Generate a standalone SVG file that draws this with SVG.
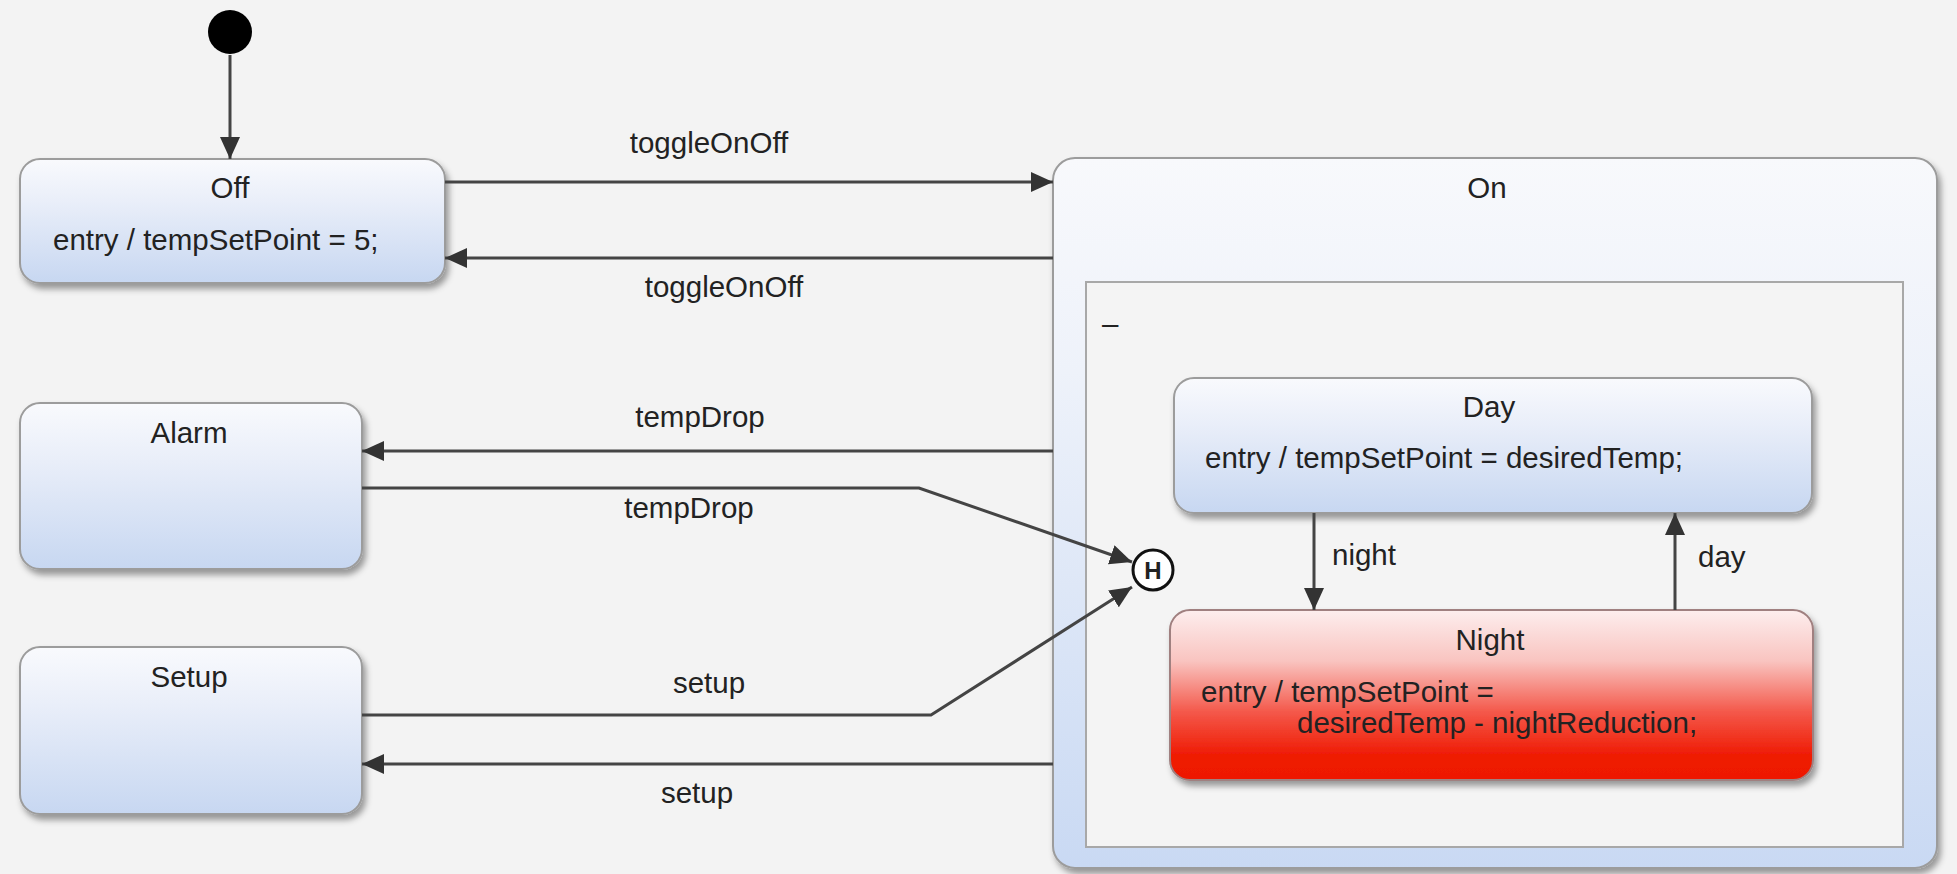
<svg xmlns="http://www.w3.org/2000/svg" width="1957" height="874" viewBox="0 0 1957 874">
  <defs>
    <linearGradient id="blueFill" x1="0" y1="0" x2="0" y2="1">
      <stop offset="0" stop-color="#f9fafd"/>
      <stop offset="0.35" stop-color="#e9eef9"/>
      <stop offset="1" stop-color="#c7d7f1"/>
    </linearGradient>
    <linearGradient id="onFill" x1="0" y1="0" x2="0" y2="1">
      <stop offset="0" stop-color="#f8f9fc"/>
      <stop offset="0.3" stop-color="#eef2fa"/>
      <stop offset="1" stop-color="#c9d9f3"/>
    </linearGradient>
    <linearGradient id="redFill" x1="0" y1="0" x2="0" y2="1">
      <stop offset="0" stop-color="#fdeeee"/>
      <stop offset="0.3" stop-color="#f9c4c0"/>
      <stop offset="0.6" stop-color="#f4584a"/>
      <stop offset="0.85" stop-color="#ef1c05"/>
      <stop offset="1" stop-color="#ee1800"/>
    </linearGradient>
    <filter id="shadow" x="-10%" y="-10%" width="120%" height="130%">
      <feDropShadow dx="3" dy="5" stdDeviation="3" flood-color="#000" flood-opacity="0.38"/>
    </filter>
    <marker id="arrow" markerUnits="userSpaceOnUse" markerWidth="24" markerHeight="22" refX="22" refY="10" orient="auto">
      <path d="M0,0 L22,10 L0,20 Z" fill="#333"/>
    </marker>
    <style>
      .txt { font-family: "Liberation Sans", Arial, sans-serif; font-size: 29.5px; fill: #222; }
      .mid { text-anchor: middle; }
      .box { fill: url(#blueFill); stroke: #9c9c9c; stroke-width: 2; filter: url(#shadow); }
      .red { fill: url(#redFill); stroke: #a08080; stroke-width: 2; filter: url(#shadow); }
      .edge { fill: none; stroke: #444; stroke-width: 3; marker-end: url(#arrow); }
    </style>
  </defs>

  <rect x="0" y="0" width="1957" height="874" fill="#f3f3f3"/>

  <!-- composite state On with its region -->
  <g id="On">
    <rect x="1053" y="158" width="884" height="710" rx="22" fill="url(#onFill)" stroke="#9c9c9c" stroke-width="2" filter="url(#shadow)"/>
    <text class="txt mid" x="1487" y="198">On</text>
    <rect x="1086" y="282" width="817" height="565" fill="#f4f4f4" stroke="#a8a8a8" stroke-width="2"/>
    <text class="txt" x="1102" y="334">–</text>
  </g>

  <g id="initial">
    <circle cx="230" cy="32" r="22" fill="#000"/>
  </g>

  <g id="Off">
    <rect class="box" x="20" y="159" width="425" height="124" rx="20"/>
    <text class="txt mid" x="230" y="198">Off</text>
    <text class="txt" x="53" y="250">entry / tempSetPoint = 5;</text>
  </g>

  <g id="Alarm">
    <rect class="box" x="20" y="403" width="342" height="166" rx="20"/>
    <text class="txt mid" x="189" y="443">Alarm</text>
  </g>

  <g id="Setup">
    <rect class="box" x="20" y="647" width="342" height="167" rx="20"/>
    <text class="txt mid" x="189" y="687">Setup</text>
  </g>

  <g id="Day">
    <rect class="box" x="1174" y="378" width="638" height="135" rx="20"/>
    <text class="txt mid" x="1489" y="417">Day</text>
    <text class="txt" x="1205" y="468">entry / tempSetPoint = desiredTemp;</text>
  </g>

  <g id="Night">
    <rect class="red" x="1170" y="610" width="643" height="170" rx="20"/>
    <text class="txt mid" x="1490" y="650">Night</text>
    <text class="txt" x="1201" y="702">entry / tempSetPoint =</text>
    <text class="txt" x="1297" y="733">desiredTemp - nightReduction;</text>
  </g>

  <g id="history">
    <circle cx="1153" cy="570" r="20" fill="#fff" stroke="#111" stroke-width="3"/>
    <text class="txt mid" x="1153" y="579" style="font-size:24px;font-weight:bold">H</text>
  </g>

  <g id="connectors">
    <path class="edge" d="M230,55 V159"/>
    <path class="edge" d="M445,182 H1053"/>
    <path class="edge" d="M1053,258 H445"/>
    <path class="edge" d="M1053,451 H362"/>
    <path class="edge" d="M362,488 H919 L1132,562"/>
    <path class="edge" d="M362,715 H931 L1132,587"/>
    <path class="edge" d="M1053,764 H362"/>
    <path class="edge" d="M1314,513 V610"/>
    <path class="edge" d="M1675,610 V513"/>

    <text class="txt mid" x="709" y="153">toggleOnOff</text>
    <text class="txt mid" x="724" y="297">toggleOnOff</text>
    <text class="txt mid" x="700" y="427">tempDrop</text>
    <text class="txt mid" x="689" y="518">tempDrop</text>
    <text class="txt mid" x="709" y="693">setup</text>
    <text class="txt mid" x="697" y="803">setup</text>
    <text class="txt" x="1332" y="565">night</text>
    <text class="txt" x="1698" y="567">day</text>
  </g>
</svg>
